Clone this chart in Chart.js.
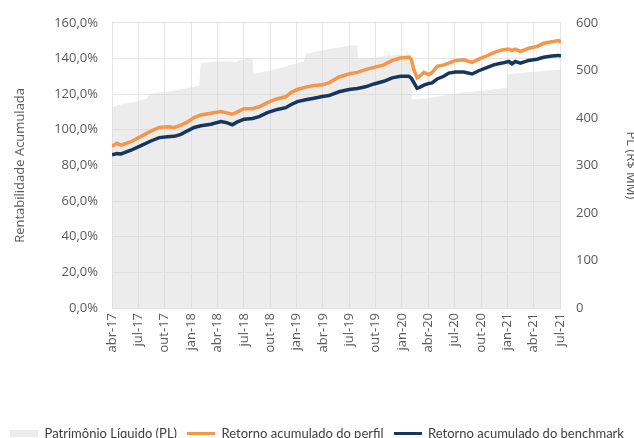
<!DOCTYPE html>
<html>
<head>
<meta charset="utf-8">
<script src="https://cdn.jsdelivr.net/npm/chart.js@4.4.1/dist/chart.umd.min.js"></script>
<style>
  html, body { margin: 0; padding: 0; background: #fff; }
</style>
</head>
<body>
<canvas id="grafico" width="634" height="438"></canvas>
<script>
// posicao no eixo x em meses desde abr-17 (0 = abr-17, 3 = jul-17, ...)
const mesesRet = [0, 0.57, 1.02, 2.16, 3.30, 4.43, 5.38, 6.32, 7.08, 7.84,
  8.59, 9.35, 10.11, 11.25, 12.39, 12.95, 13.70, 14.27, 15.03, 15.98,
  16.74, 17.68, 18.82, 19.77, 20.34, 21.09, 22.05, 22.99, 23.93, 24.69,
  25.83, 26.97, 27.91, 28.86, 29.81, 30.94, 31.89, 32.84, 33.78, 34.05,
  34.35, 34.73, 35.11, 35.49, 36.06, 36.43, 37.0, 37.76, 38.33, 39.09,
  40.03, 40.98, 41.74, 42.5, 43.44, 44.39, 45.15, 45.52, 45.91, 46.48,
  47.42, 48.36, 49.13, 50.07, 50.83, 51.1];

const retornoPerfil = [90.7, 92.4, 91.4, 93.3, 96.3, 99.2, 101.3, 101.7, 101.3, 102.6,
  104.4, 106.8, 108.3, 109.2, 110.2, 109.6, 108.7, 110.0, 111.8, 111.8,
  112.9, 115.2, 117.4, 118.5, 120.7, 122.6, 123.9, 124.8, 125.3, 126.3,
  129.6, 131.3, 132.2, 133.7, 135.0, 136.4, 138.9, 140.2, 140.7, 139.6,
  133.7, 129.1, 130.3, 132.2, 130.9, 132.2, 135.6, 136.4, 137.4, 138.9,
  139.2, 137.8, 139.6, 141.1, 143.3, 144.8, 145.3, 144.4, 145.2, 143.9,
  145.7, 146.7, 148.5, 149.4, 150.0, 149.1];

const retornoBenchmark = [85.9, 86.6, 86.4, 88.5, 91.1, 93.7, 95.6, 96.1, 96.3, 97.4,
  99.4, 101.3, 102.2, 103.1, 104.6, 104.1, 102.8, 104.4, 105.9, 106.3,
  107.4, 109.6, 111.4, 112.4, 114.0, 115.8, 116.8, 117.7, 118.7, 119.2,
  121.3, 122.6, 123.1, 124.1, 125.7, 127.2, 129.1, 130.0, 130.0, 129.0,
  126.5, 123.2, 124.0, 125.0, 126.0, 126.3, 128.5, 130.0, 131.8, 132.4,
  132.4, 131.3, 133.1, 134.6, 136.4, 137.4, 138.3, 137.0, 138.3, 137.4,
  138.9, 139.6, 140.7, 141.4, 141.7, 141.3];

const mesesPL = [0, 1.02, 2.91, 4.05, 4.24, 5.94, 7.84, 9.92, 10.11, 12.0,
  13.33, 14.09, 14.84, 15.98, 16.09, 17.88, 19.77, 21.85, 22.11, 23.93,
  25.83, 26.77, 27.91, 27.99, 29.81, 31.4, 31.5, 31.6, 33.78, 34.05,
  34.13, 36.06, 39.81, 44.92, 44.98, 47.42, 50.83, 51.1];

const patrimonio = [423, 428, 435, 442, 450, 454, 460, 467, 515, 519,
  519, 517, 523, 526, 493, 499, 508, 519, 535, 542,
  548, 551, 553, 524, 527, 531, 541, 531, 534, 533,
  438, 442, 453, 463, 491, 496, 501, 502];

const rotulosX = ['abr-17', 'jul-17', 'out-17', 'jan-18', 'abr-18', 'jul-18', 'out-18', 'jan-19',
  'abr-19', 'jul-19', 'out-19', 'jan-20', 'abr-20', 'jul-20', 'out-20', 'jan-21', 'abr-21', 'jul-21'];
const posRotulos = [0, 3, 6, 9, 12, 15, 18, 21, 24, 27, 30, 33, 36, 39, 42, 45, 48, 51];

const corTexto = '#595959';
const fonte = { family: 'Open Sans', size: 13 };

function icone(cor, alt) {
  const c = document.createElement('canvas');
  c.width = 28; c.height = alt;
  const g = c.getContext('2d');
  g.fillStyle = cor;
  g.fillRect(0, 0, 28, alt);
  return c;
}
const icones = [icone('#ebebeb', 7), icone('#f79646', 3), icone('#17365d', 3)];

const ctx = document.getElementById('grafico');

new Chart(ctx, {
  type: 'line',
  data: {
    datasets: [{
      label: 'Patrimônio Líquido (PL)',
      data: mesesPL.map((m, i) => ({ x: m, y: patrimonio[i] })),
      yAxisID: 'y1',
      fill: 'origin',
      backgroundColor: 'rgba(212,212,212,0.45)',
      borderColor: 'transparent',
      borderWidth: 0,
      pointRadius: 0,
      order: 3
    }, {
      label: 'Retorno acumulado do perfil',
      data: mesesRet.map((m, i) => ({ x: m, y: retornoPerfil[i] })),
      yAxisID: 'y',
      borderColor: '#f79646',
      backgroundColor: '#f79646',
      borderWidth: 3.5,
      pointRadius: 0,
      fill: false,
      order: 1
    }, {
      label: 'Retorno acumulado do benchmark',
      data: mesesRet.map((m, i) => ({ x: m, y: retornoBenchmark[i] })),
      yAxisID: 'y',
      borderColor: '#17365d',
      backgroundColor: '#17365d',
      borderWidth: 3.5,
      pointRadius: 0,
      fill: false,
      order: 2
    }]
  },
  options: {
    responsive: false,
    animation: false,
    devicePixelRatio: 1,
    layout: { padding: { top: 20, left: 0, right: 0, bottom: -12 } },
    plugins: {
      tooltip: { enabled: false },
      legend: {
        position: 'bottom',
        labels: {
          usePointStyle: true,
          pointStyleWidth: 28,
          boxHeight: 7,
          padding: 10,
          color: '#404040',
          font: { family: 'Lato', size: 13 },
          sort: (a, b) => a.datasetIndex - b.datasetIndex,
          generateLabels(chart) {
            const itens = Chart.defaults.plugins.legend.labels.generateLabels(chart);
            itens.forEach(it => { it.pointStyle = icones[it.datasetIndex]; });
            return itens;
          }
        }
      }
    },
    scales: {
      x: {
        type: 'linear',
        min: 0,
        max: 51.1,
        afterBuildTicks: s => { s.ticks = posRotulos.map(v => ({ value: v })); },
        afterFit: s => { s.height = 109; },
        ticks: {
          autoSkip: false,
          minRotation: 90,
          maxRotation: 90,
          padding: 5,
          color: corTexto,
          font: fonte,
          callback: v => rotulosX[posRotulos.indexOf(v)]
        },
        grid: { color: '#e6e6e6', drawTicks: false },
        border: { display: false }
      },
      y: {
        position: 'left',
        min: 0,
        max: 160,
        afterFit: s => { s.width = 112; },
        ticks: {
          stepSize: 20,
          padding: 14,
          color: corTexto,
          font: fonte,
          callback: v => v.toFixed(1).replace('.', ',') + '%'
        },
        grid: { color: '#e6e6e6', drawTicks: false },
        border: { display: false },
        title: {
          display: true,
          text: 'Rentabilidade Acumulada',
          color: corTexto,
          font: fonte,
          padding: { top: 12, bottom: 0 }
        }
      },
      y1: {
        position: 'right',
        min: 0,
        max: 600,
        afterFit: s => { s.width = 73; },
        ticks: {
          stepSize: 100,
          padding: 15,
          color: corTexto,
          font: fonte
        },
        grid: { display: false, drawTicks: false },
        border: { display: false },
        title: {
          display: true,
          text: 'PL (R$ MM)',
          color: corTexto,
          font: fonte,
          padding: { top: -5, bottom: 0 }
        }
      }
    }
  }
});
</script>
</body>
</html>
